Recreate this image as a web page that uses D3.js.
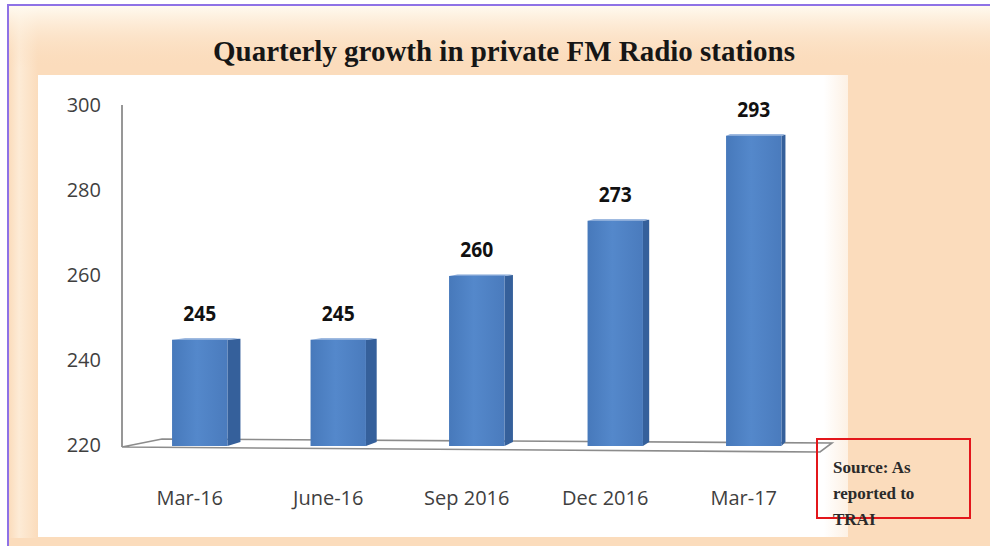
<!DOCTYPE html>
<html>
<head>
<meta charset="utf-8">
<script src="https://cdn.jsdelivr.net/npm/d3@7"></script>
<style>
  html, body { margin: 0; padding: 0; background: #ffffff; }
  svg { display: block; }
</style>
</head>
<body>
<svg id="chart" width="990" height="546"></svg>
<script>
// Quarterly count of private FM radio stations
const categories = ["Mar-16", "June-16", "Sep 2016", "Dec 2016", "Mar-17"];
const stations = [245, 245, 260, 273, 293];
const yTicks = [220, 240, 260, 280, 300];
const titleText = "Quarterly growth in private FM Radio stations";
const sourceLines = ["Source: As", "reported to", "TRAI"];

const svg = d3.select("#chart");
const defs = svg.append("defs");

// Frame gradients
const topGrad = defs.append("linearGradient").attr("id", "topGlow")
  .attr("x1", 0).attr("y1", 0).attr("x2", 0).attr("y2", 1);
topGrad.append("stop").attr("offset", "0%").attr("stop-color", "#fffaf0");
topGrad.append("stop").attr("offset", "100%").attr("stop-color", "#fbdcbc").attr("stop-opacity", 0);

const leftGrad = defs.append("linearGradient").attr("id", "leftGlow")
  .attr("x1", 0).attr("y1", 0).attr("x2", 1).attr("y2", 0);
leftGrad.append("stop").attr("offset", "0%").attr("stop-color", "#fbdcbc");
leftGrad.append("stop").attr("offset", "35%").attr("stop-color", "#fdebd6");
leftGrad.append("stop").attr("offset", "100%").attr("stop-color", "#fbdcbc");

const plotGrad = defs.append("linearGradient").attr("id", "plotBg")
  .attr("x1", 0).attr("y1", 0).attr("x2", 1).attr("y2", 0);
plotGrad.append("stop").attr("offset", "0%").attr("stop-color", "#ffffff");
plotGrad.append("stop").attr("offset", "97%").attr("stop-color", "#ffffff");
plotGrad.append("stop").attr("offset", "100%").attr("stop-color", "#fdf1e4");

const frontGrad = defs.append("linearGradient").attr("id", "barFront")
  .attr("x1", 0).attr("y1", 0).attr("x2", 1).attr("y2", 0);
frontGrad.append("stop").attr("offset", "0%").attr("stop-color", "#4779bb");
frontGrad.append("stop").attr("offset", "45%").attr("stop-color", "#5488cb");
frontGrad.append("stop").attr("offset", "100%").attr("stop-color", "#4a7bbd");

// Outer frame
svg.append("rect").attr("x", 8).attr("y", 5).attr("width", 982).attr("height", 541)
  .attr("fill", "#fbdcbc");
svg.append("rect").attr("x", 9).attr("y", 6).attr("width", 29).attr("height", 532)
  .attr("fill", "url(#leftGlow)");
svg.append("rect").attr("x", 9).attr("y", 6).attr("width", 981).attr("height", 62)
  .attr("fill", "url(#topGlow)");
svg.append("line").attr("x1", 7).attr("x2", 990).attr("y1", 5).attr("y2", 5)
  .attr("stroke", "#8e72e6").attr("stroke-width", 2);
svg.append("line").attr("x1", 8).attr("x2", 8).attr("y1", 4).attr("y2", 546)
  .attr("stroke", "#8e72e6").attr("stroke-width", 2);

// Plot area
svg.append("rect").attr("x", 38).attr("y", 75).attr("width", 810).attr("height", 462)
  .attr("fill", "url(#plotBg)");

// Title
svg.append("text")
  .attr("x", 504).attr("y", 61)
  .attr("text-anchor", "middle")
  .attr("font-family", "'Liberation Serif', 'DejaVu Serif', serif")
  .attr("font-weight", "bold")
  .attr("font-size", 29)
  .attr("fill", "#161616")
  .attr("textLength", 582)
  .attr("lengthAdjust", "spacingAndGlyphs")
  .text(titleText);

// Scales
const y = d3.scaleLinear().domain([220, 300]).range([446, 106]);
const x = d3.scaleBand().domain(categories).range([130.5, 823])
  .paddingInner(0.6).paddingOuter(0.3);
const bw = x.bandwidth();
const depth = d3.scaleLinear().domain([x(categories[0]), x(categories[categories.length - 1])])
  .range([13, 4]);

// 3D floor and back wall edge
const y0 = y(220);
svg.append("polygon")
  .attr("points", [[122, y0 + 1], [162, y0 - 7], [832, y0 - 3], [820, y0 + 6]].map(p => p.join(",")).join(" "))
  .attr("fill", "#ffffff").attr("stroke", "#8c8c8c").attr("stroke-width", 1.6);
svg.append("line").attr("x1", 122).attr("x2", 122).attr("y1", y(300) - 1).attr("y2", y0 + 1)
  .attr("stroke", "#8c8c8c").attr("stroke-width", 1.8);

// Y axis tick labels
const fontSans = "'Open Sans', 'Noto Sans', sans-serif";
svg.append("g").selectAll("text").data(yTicks).join("text")
  .attr("x", 101).attr("y", d => y(d) + 1)
  .attr("text-anchor", "end").attr("dominant-baseline", "middle")
  .attr("font-family", fontSans).attr("font-size", 20).attr("fill", "#3f3f3f")
  .text(d => d);

// Bars
const bars = svg.append("g").selectAll("g").data(categories.map((c, i) => ({ c, v: stations[i] })))
  .join("g");

bars.append("polygon")
  .attr("points", d => {
    const x1 = x(d.c) + bw, dd = depth(x(d.c)), yt = y(d.v), yb = y0;
    return [[x1, yt], [x1 + dd, yt - 1], [x1 + dd, yb - 4], [x1, yb]].map(p => p.join(",")).join(" ");
  })
  .attr("fill", "#35609b");

bars.append("polygon")
  .attr("points", d => {
    const x0 = x(d.c), dd = depth(x0), yt = y(d.v);
    return [[x0, yt], [x0 + dd, yt - 1.5], [x0 + bw + dd, yt - 1.5], [x0 + bw, yt]].map(p => p.join(",")).join(" ");
  })
  .attr("fill", "#7fa3d6");

bars.append("rect")
  .attr("x", d => x(d.c)).attr("y", d => y(d.v))
  .attr("width", bw).attr("height", d => y0 - y(d.v))
  .attr("fill", "url(#barFront)");

// Value labels
bars.append("text")
  .attr("x", d => x(d.c) + bw / 2).attr("y", d => y(d.v) - 19)
  .attr("text-anchor", "middle")
  .attr("font-family", fontSans).attr("font-weight", "bold").attr("font-size", 22)
  .attr("fill", "#111111")
  .attr("textLength", 33).attr("lengthAdjust", "spacingAndGlyphs")
  .text(d => d.v);

// Category labels
svg.append("g").selectAll("text").data(categories).join("text")
  .attr("x", d => x(d) + bw / 2 - 10).attr("y", 505)
  .attr("text-anchor", "middle")
  .attr("font-family", fontSans).attr("font-size", 20).attr("fill", "#3f3f3f")
  .text(d => d);

// Source note
svg.append("rect").attr("x", 817).attr("y", 439).attr("width", 153).attr("height", 79)
  .attr("fill", "none").attr("stroke", "#e3161b").attr("stroke-width", 2);
svg.append("g").selectAll("text").data(sourceLines).join("text")
  .attr("x", 833).attr("y", (d, i) => 473 + i * 26)
  .attr("font-family", "'Liberation Serif', 'DejaVu Serif', serif")
  .attr("font-weight", "bold").attr("font-size", 17).attr("fill", "#2a2a2a")
  .text(d => d);
</script>
</body>
</html>
